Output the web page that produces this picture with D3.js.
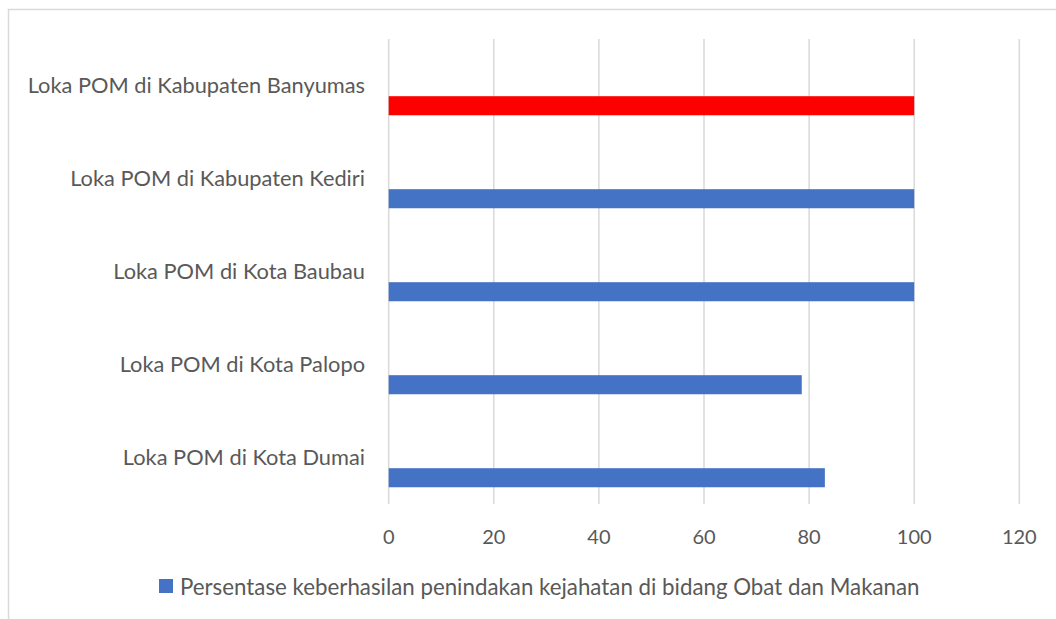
<!DOCTYPE html>
<html><head><meta charset="utf-8">
<script src="https://cdn.jsdelivr.net/npm/d3@7"></script>
<style>body{margin:0;background:#fff}svg{display:block}text{font-family:Lato,"Open Sans",sans-serif;fill:#595959}</style>
</head><body><svg id="c" width="1056" height="619"></svg>
<script>
const categories = ["Loka POM di Kabupaten Banyumas","Loka POM di Kabupaten Kediri","Loka POM di Kota Baubau","Loka POM di Kota Palopo","Loka POM di Kota Dumai"];
const values = [100, 100, 100, 78.6, 83];
const barColors = ["#ff0000","#4472c4","#4472c4","#4472c4","#4472c4"];
const xTicks = [0,20,40,60,80,100,120];
const seriesName = "Persentase keberhasilan penindakan kejahatan di bidang Obat dan Makanan";

const svg = d3.select("#c");
svg.append("rect").attr("x",8.5).attr("y",9.5).attr("width",1060).attr("height",620).attr("fill","none").attr("stroke","#d9d9d9").attr("stroke-width",1.5);

const x = d3.scaleLinear().domain([0,120]).range([388.7,1019.3]);
const y = d3.scaleBand().domain(categories).range([39,504]);

const g = svg.append("g");
g.selectAll("line.grid").data(xTicks).join("line")
  .attr("x1",d=>x(d)).attr("x2",d=>x(d)).attr("y1",39).attr("y2",504)
  .attr("stroke","#d9d9d9").attr("stroke-width",1.5);

g.selectAll("rect.bar").data(values).join("rect")
  .attr("x",x(0)).attr("y",(d,i)=>y(categories[i])+y.bandwidth()*0.615)
  .attr("width",d=>x(d)-x(0)).attr("height",y.bandwidth()*0.205)
  .attr("fill",(d,i)=>barColors[i]);

g.selectAll("text.cat").data(categories).join("text")
  .attr("x",365).attr("y",d=>y(d)+y.bandwidth()/2).attr("dy","0.35em")
  .attr("text-anchor","end").attr("font-size",21.8).text(d=>d);

g.selectAll("text.tick").data(xTicks).join("text")
  .attr("x",d=>x(d)).attr("y",537).attr("dy","0.35em")
  .attr("text-anchor","middle").attr("font-size",20).text(d=>d);

svg.append("rect").attr("x",159).attr("y",579).attr("width",14).attr("height",14).attr("fill","#4472c4");
svg.append("text").attr("x",180).attr("y",587).attr("dy","0.35em").attr("font-size",22.3).text(seriesName);
</script></body></html>
